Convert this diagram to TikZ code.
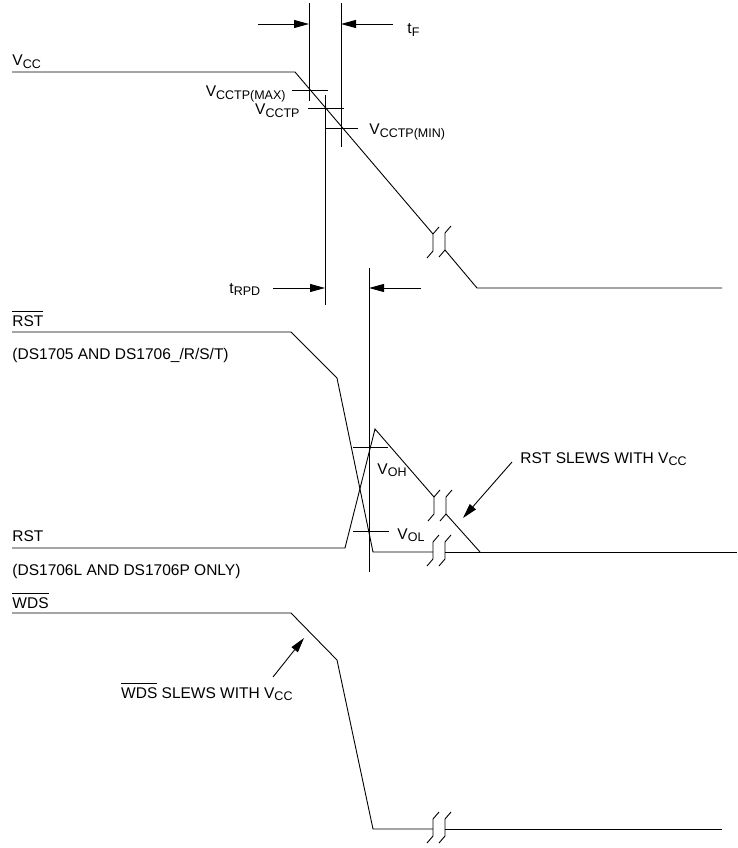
\documentclass[tikz,border=0pt]{standalone}
\usepackage{fontspec}
\setmainfont{Liberation Sans}
\usetikzlibrary{arrows.meta}
\newcommand{\sub}[1]{\raisebox{-2.5pt}{\fontsize{12.5}{12}\selectfont #1}}
\newcommand{\ovl}[1]{\begingroup\setbox0\hbox{#1}\rlap{\rule[\dimexpr\ht0+3pt\relax]{\wd0}{0.8pt}}\box0\endgroup}
\newcommand{\brk}[2]{\draw (#1+6,#2-7) -- (#1,#2) -- (#1,#2+17) -- (#1-6,#2+24);}

\begin{document}
\begin{tikzpicture}[x=1pt,y=-1pt,line width=.9pt,font=\fontsize{15.5}{18}\selectfont,
  lbl/.style={inner sep=0pt},
  ptr/.style={-{Triangle[length=15pt,width=8pt]}}]
\useasboundingbox (0,0) rectangle (737,848);
% VCC
\draw (12,72) -- (295,72) -- (433,234);
\draw (445,250) -- (477,288) -- (722,288);
\brk{433}{234}\brk{445}{233}
% RST (open drain)
\draw (12,332) -- (291,332) -- (337,378) -- (373,552) -- (433,552);
\draw (445,552) -- (737,552);
\brk{433}{542}\brk{445}{542}
% RST (push-pull)
\draw (12,548) -- (345,548) -- (375,429) -- (434,497);
\draw (446,514) -- (480,552);
\brk{434}{497}\brk{446}{497}
% WDS
\draw (12,613) -- (291,613) -- (337,660) -- (373,829) -- (433,829);
\draw (445,829) -- (722,829);
\brk{433}{819}\brk{445}{819}
% timing lines
\draw (309,3) -- (309,101);
\draw (341,3) -- (341,147);
\draw (325,95) -- (325,305);
\draw (369,268) -- (369,572);
% trip points
\draw (292,90) -- (328,90);
\draw (308,108) -- (344,108);
\draw (325,128) -- (358,128);
\draw (353,447) -- (388,447);
\draw (353,531) -- (389,531);
% arrows
\coordinate (tf-a) at (258,24);
\coordinate (tf-b) at (309,24);
\coordinate (tf-c) at (393,24);
\coordinate (tf-d) at (341,24);
\coordinate (trpd-a) at (273,288);
\coordinate (trpd-b) at (325,288);
\coordinate (trpd-c) at (421,288);
\coordinate (trpd-d) at (369,288);
\coordinate (rst-tail) at (512,462);
\coordinate (rst-tip) at (463,518);
\coordinate (wds-tail) at (273,677);
\coordinate (wds-tip) at (304,638);
\draw[ptr] (tf-a) -- (tf-b);
\draw[ptr] (tf-c) -- (tf-d);
\draw[ptr] (trpd-a) -- (trpd-b);
\draw[ptr] (trpd-c) -- (trpd-d);
\draw[ptr] (rst-tail) -- (rst-tip);
\draw[ptr] (wds-tail) -- (wds-tip);
% labels
\node[lbl,anchor=base west] (vcc) at (12,66) {V\sub{CC}};
\node[lbl,anchor=base east] (vmax) at (286,97) {V\sub{CCTP(MAX)}};
\node[lbl,anchor=base east] (vtp) at (300,115) {V\sub{CCTP}};
\node[lbl,anchor=base west] (vmin) at (369,135) {V\sub{CCTP(MIN)}};
\node[lbl,anchor=base west] (tf) at (407,34) {t\sub{F}};
\node[lbl,anchor=base west] (trpd) at (229,293) {t\sub{RPD}};
\node[lbl,anchor=base west] (rstb) at (12,326) {\ovl{RST}};
\node[lbl,anchor=base west] (rstb-note) at (12,359) {(DS1705 AND DS1706\_/R/S/T)};
\node[lbl,anchor=base west] (voh) at (377,474) {V\sub{OH}};
\node[lbl,anchor=base west] (vol) at (397,539) {V\sub{OL}};
\node[lbl,anchor=base west] (rst-slew) at (520,463) {RST SLEWS WITH V\sub{CC}};
\node[lbl,anchor=base west] (rst) at (12,541) {RST};
\node[lbl,anchor=base west] (rst-note) at (12,575) {(DS1706L AND DS1706P ONLY)};
\node[lbl,anchor=base west] (wdsb) at (12,608) {\ovl{WDS}};
\node[lbl,anchor=base east] (wds-slew) at (293,698) {\ovl{WDS} SLEWS WITH V\sub{CC}};
\end{tikzpicture}
\end{document}
